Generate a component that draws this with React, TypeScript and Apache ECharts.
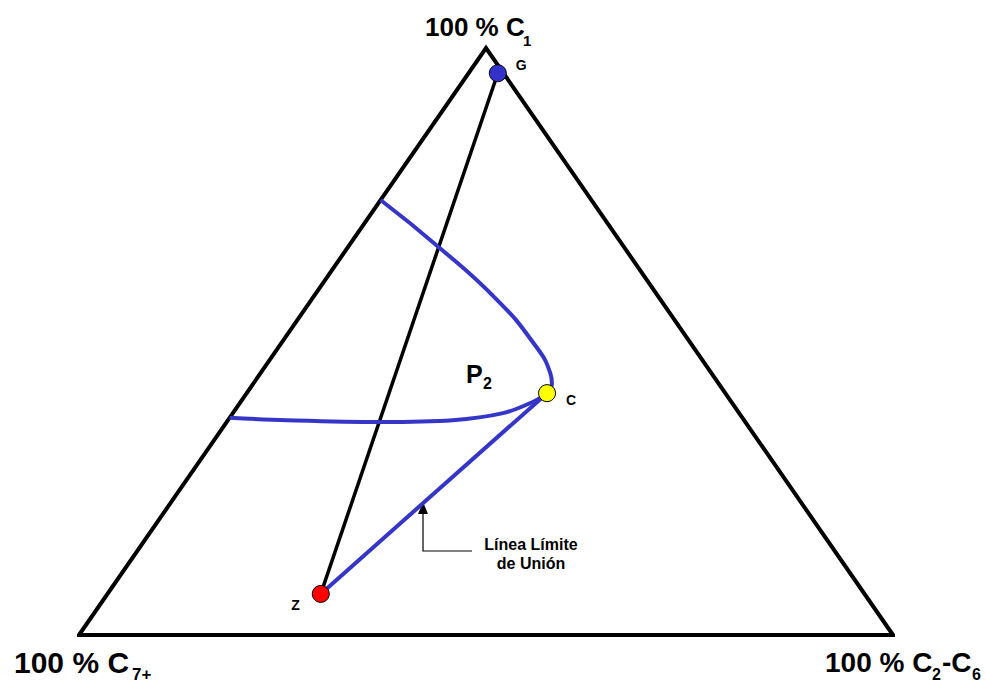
import React, { useEffect, useRef } from "react";
import * as echarts from "echarts";

// Compositions in percent, ordered [C1, C2-C6, C7+]
const vertexC7 = [0, 0, 100];
const vertexC26 = [0, 100, 0];
const vertexC1 = [100, 0, 0];

const pointG = [95.7, 3.6, 0.7];
const pointC = [41.2, 36.9, 21.9];
const pointZ = [7.0, 26.2, 66.8];

// Dew-point branch of the two-phase envelope (from the C1–C7+ side to the critical point)
const dewBranch = [
  [74.1, 0.0, 25.9],
  [65.9, 11.4, 22.7],
  [57.1, 22.8, 20.1],
  [49.7, 31.0, 19.3],
  [44.6, 35.6, 19.8],
  [42.8, 36.7, 20.5],
  [41.2, 36.9, 21.9],
];

// Bubble-point branch of the envelope
const bubbleBranch = [
  [37.0, 0.0, 63.0],
  [36.6, 7.2, 56.2],
  [36.3, 18.8, 44.9],
  [36.6, 27.6, 35.8],
  [37.8, 33.2, 29.0],
  [39.7, 35.9, 24.4],
  [40.9, 36.8, 22.3],
  [41.2, 36.9, 21.9],
];

const pointNames = ["G", "C", "Z"];
const limitLineText = ["Línea Límite", "de Unión"];

// Ternary -> plane: x = C2-C6 + C1/2, y = C1 (fractions)
const toXY = (p: number[]) => [(p[1] + p[0] / 2) / 100, p[0] / 100];

const FONT = '"Liberation Sans", Arial, Helvetica, sans-serif';
const BLUE = "#3535C8";

function txt(text: string, x: number, y: number, size: number, align = "left") {
  return {
    type: "text",
    x,
    y,
    silent: true,
    style: {
      text,
      fill: "#000",
      fontSize: size,
      fontWeight: "bold",
      fontFamily: FONT,
      textAlign: align,
      textVerticalAlign: "middle",
    },
  };
}

export default function App() {
  const ref = useRef<HTMLDivElement>(null);

  useEffect(() => {
    if (!ref.current) return;
    const chart = echarts.init(ref.current, undefined, { renderer: "svg" });

    const triangle = [vertexC7, vertexC26, vertexC1, vertexC7, vertexC26].map(toXY);

    const marker = (color: string) => ({
      color,
      borderColor: "#000",
      borderWidth: 1,
      opacity: 1,
    });

    const option: any = {
      animation: false,
      backgroundColor: "#fff",
      grid: { left: 79, right: 93, top: 48, bottom: 48 },
      xAxis: { type: "value", min: 0, max: 1, show: false },
      yAxis: { type: "value", min: 0, max: 1, show: false },
      series: [
        {
          type: "line",
          data: triangle,
          symbol: "none",
          clip: false,
          lineStyle: { color: "#000", width: 4, join: "miter", miterLimit: 10 },
          z: 2,
        },
        {
          type: "line",
          data: [pointG, pointZ].map(toXY),
          symbol: "none",
          clip: false,
          lineStyle: { color: "#000", width: 3.5 },
          z: 3,
        },
        {
          type: "line",
          data: dewBranch.map(toXY),
          symbol: "none",
          smooth: 0.5,
          clip: false,
          lineStyle: { color: BLUE, width: 4 },
          z: 4,
        },
        {
          type: "line",
          data: bubbleBranch.map(toXY),
          symbol: "none",
          smooth: 0.35,
          clip: false,
          lineStyle: { color: BLUE, width: 4 },
          z: 4,
        },
        {
          type: "line",
          data: [pointC, pointZ].map(toXY),
          symbol: "none",
          clip: false,
          lineStyle: { color: BLUE, width: 4 },
          z: 4,
        },
        {
          type: "scatter",
          symbolSize: 17,
          clip: false,
          z: 6,
          itemStyle: { opacity: 1 },
          label: {
            show: true,
            formatter: (p: any) => p.name,
            color: "#000",
            opacity: 1,
            fontSize: 14,
            fontWeight: "bold",
            fontFamily: FONT,
          },
          data: [
            {
              name: pointNames[0],
              value: toXY(pointG),
              itemStyle: marker("#3333CC"),
              label: { position: "right", offset: [4, -8] },
            },
            {
              name: pointNames[1],
              value: toXY(pointC),
              itemStyle: marker("#FFFF00"),
              label: { position: "right", offset: [5, 7] },
            },
            {
              name: pointNames[2],
              value: toXY(pointZ),
              itemStyle: marker("#FF0000"),
              label: { position: "left", offset: [-7, 11] },
            },
          ],
        },
      ],
      graphic: [
        // apex and corner titles with subscripts
        txt("100 % C", 425, 27, 26),
        txt("1", 523, 40, 15),
        txt("100 % C", 14, 662, 30),
        txt("7+", 132, 674, 17),
        txt("100 % C", 825, 662, 28),
        txt("2", 932, 674, 16),
        txt("-C", 942, 662, 28),
        txt("6", 972, 674, 16),
        // two-phase region label
        txt("P", 466, 374, 25),
        txt("2", 483, 383, 16),
        // annotation arrow pointing at the limiting tie line
        {
          type: "polyline",
          silent: true,
          shape: { points: [[472, 551], [423, 551], [423, 512]] },
          style: { stroke: "#000", lineWidth: 1.2, fill: null },
        },
        {
          type: "polygon",
          silent: true,
          shape: { points: [[423, 502], [418, 514], [428, 514]] },
          style: { fill: "#000" },
        },
        txt(limitLineText[0], 531, 544, 16, "center"),
        txt(limitLineText[1], 531, 563, 16, "center"),
      ],
    };

    chart.setOption(option);
    return () => chart.dispose();
  }, []);

  return (
    <div
      ref={ref}
      style={{ position: "fixed", left: 0, top: 0, width: 986, height: 683, background: "#fff" }}
    />
  );
}
